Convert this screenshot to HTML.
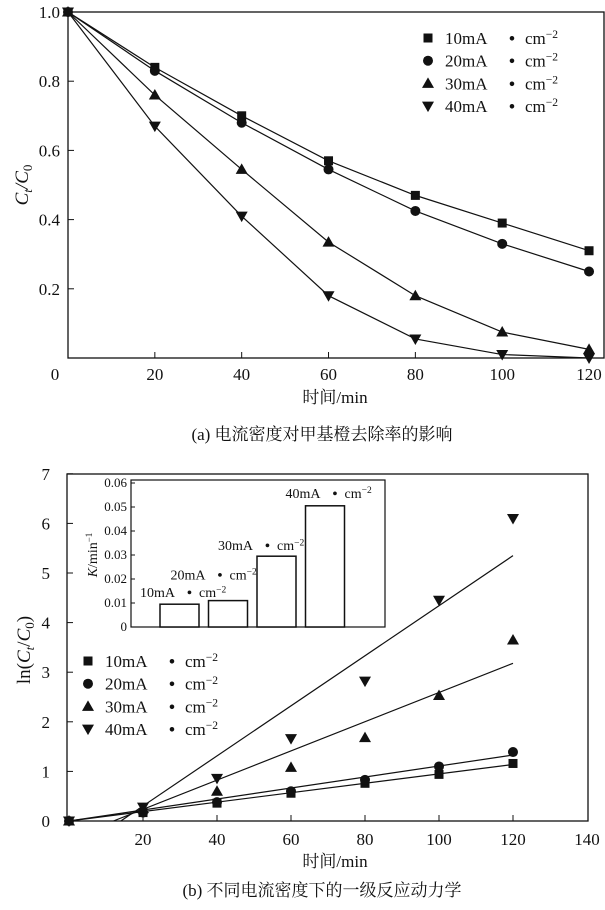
<!DOCTYPE html>
<html><head><meta charset="utf-8"><style>
html,body{margin:0;padding:0;background:#fff;}
svg{display:block;font-family:"Liberation Serif","Noto Serif CJK SC",serif;}
</style></head><body>
<svg id="c" width="605" height="910" xmlns="http://www.w3.org/2000/svg"></svg>
<script>
const NS='http://www.w3.org/2000/svg';
const topX=[0,20,40,60,80,100,120];
const top10=[1,0.84,0.70,0.57,0.47,0.39,0.31];
const top20=[1,0.83,0.68,0.545,0.425,0.33,0.25];
const top30=[1,0.76,0.545,0.335,0.18,0.075,0.025];
const top40=[1,0.67,0.41,0.18,0.055,0.01,0.0];
const topYTicks=[0.2,0.4,0.6,0.8,1.0];
const topXTicks=[20,40,60,80,100,120];
const botX=[0,20,40,60,80,100,120];
const bot10=[0,0.17,0.36,0.56,0.76,0.94,1.16];
const bot20=[0,0.17,0.38,0.60,0.83,1.10,1.39];
const bot30=[0,0.25,0.60,1.08,1.68,2.53,3.65];
const bot40=[0,0.28,0.86,1.66,2.82,4.45,6.10];
const fitStartX=[0,0,12,14];
const fitEnd=[1.14,1.33,3.18,5.35];
const botYTicks=[0,1,2,3,4,5,6,7];
const botXTicks=[20,40,60,80,100,120,140];
const insetCats=['10mA','20mA','30mA','40mA'];
const insetK=[0.0095,0.011,0.0295,0.0505];
const insetYTicks=[0,0.01,0.02,0.03,0.04,0.05,0.06];
const legendLabels=['10mA','20mA','30mA','40mA'];
const markers=['sq','ci','tu','td'];
const insetLabelDX=[-20,-38,-39,-20];
const insetLabelDY=[7,21,6,8];

const svg=document.getElementById('c');
function el(t,a,p){const e=document.createElementNS(NS,t);for(const k in a)e.setAttribute(k,a[k]);(p||svg).appendChild(e);return e;}
function txt(s,x,y,size,anchor,p){const t=el('text',{x:x,y:y,'font-size':size,'text-anchor':anchor||'middle',fill:'#111'},p);t.textContent=s;return t;}
function marker(type,x,y,g){
  if(type==='sq')return el('rect',{x:x-4.5,y:y-4.5,width:9,height:9,fill:'#111'},g);
  if(type==='ci')return el('circle',{cx:x,cy:y,r:5,fill:'#111'},g);
  if(type==='tu')return el('polygon',{points:`${x},${y-6} ${x-6},${y+4.5} ${x+6},${y+4.5}`,fill:'#111'},g);
  return el('polygon',{points:`${x},${y+6} ${x-6},${y-4.5} ${x+6},${y-4.5}`,fill:'#111'},g);
}
function unitLabel(s,x,y,size,g,bOff,cOff){
  const t=el('text',{x:x,y:y,'font-size':size,fill:'#111'},g);
  const a=el('tspan',{x:x},t);a.textContent=s;
  const b=el('tspan',{x:x+bOff,'font-weight':'bold'},t);b.textContent='•';
  const c=el('tspan',{x:x+cOff},t);c.textContent='cm';
  const d=el('tspan',{dy:-size*0.35,'font-size':size*0.68},t);d.textContent='−2';
  return t;
}

// ===== TOP CHART =====
const tx=v=>68+v*4.342, ty=v=>358-v*346;
const gt=el('g',{},svg);
const bt=el('rect',{x:68,y:12,width:536,height:346,fill:'none',stroke:'#111','stroke-width':1.3},gt);

topYTicks.forEach(v=>{el('line',{x1:68,y1:ty(v),x2:74,y2:ty(v),stroke:'#111'},gt);const t=txt(v.toFixed(1),60,ty(v)+6,17,'end',gt);});
txt('0',55,380,17,'middle',gt);
topXTicks.forEach(v=>{el('line',{x1:tx(v),y1:358,x2:tx(v),y2:352,stroke:'#111'},gt);const t=txt(String(v),tx(v),380,17,'middle',gt);});
[top10,top20,top30,top40].forEach((s,i)=>{
  const g=el('g',{},gt);
  el('polyline',{points:s.map((v,j)=>tx(topX[j])+','+ty(v)).join(' '),fill:'none',stroke:'#111','stroke-width':1.2},g);
  s.forEach((v,j)=>marker(markers[i],tx(topX[j]),ty(v),g));
});
legendLabels.forEach((l,i)=>{const g=el('g',{},gt);marker(markers[i],428,38+i*22.7,g);unitLabel(l,445,44+i*22.7,17,g,64,80);});
const yl=el('text',{x:0,y:0,'font-size':19,'text-anchor':'middle',transform:'translate(28,185) rotate(-90)',fill:'#111','font-style':'italic'},gt);

yl.innerHTML='C<tspan font-size="13" dy="4">t</tspan><tspan dy="-4">/C</tspan><tspan font-size="13" dy="4" font-style="normal">0</tspan>';
let t=txt('时间/min',335,403,17,'middle',gt);
t=txt('(a) 电流密度对甲基橙去除率的影响',322,440,17,'middle',gt);

// ===== BOTTOM CHART =====
const bx=v=>69+v*3.7, by=v=>821-v*49.6;
const gb=el('g',{},svg);
const bb=el('rect',{x:67,y:474,width:521,height:347,fill:'none',stroke:'#111','stroke-width':1.3},gb);

botYTicks.forEach(v=>{if(v>0)el('line',{x1:67,y1:by(v),x2:73,y2:by(v),stroke:'#111'},gb);const t=txt(String(v),50,by(v)+6,17,'end',gb);});
botXTicks.forEach(v=>{if(v<140)el('line',{x1:bx(v),y1:821,x2:bx(v),y2:815,stroke:'#111'},gb);const t=txt(String(v),bx(v),845,17,'middle',gb);});
[bot10,bot20,bot30,bot40].forEach((s,i)=>{
  const g=el('g',{},gb);
  el('line',{x1:bx(fitStartX[i]),y1:by(0),x2:bx(120),y2:by(fitEnd[i]),stroke:'#111','stroke-width':1.2},g);
  s.forEach((v,j)=>marker(markers[i],bx(botX[j]),by(v),g));
});
legendLabels.forEach((l,i)=>{const g=el('g',{},gb);marker(markers[i],88,661+i*22.7,g);unitLabel(l,105,667+i*22.7,17,g,64,80);});
const yl2=el('text',{x:0,y:0,'font-size':19,'text-anchor':'middle',transform:'translate(30,650) rotate(-90)',fill:'#111'},gb);

yl2.innerHTML='ln(<tspan font-style="italic">C</tspan><tspan font-size="13" dy="4" font-style="italic">t</tspan><tspan dy="-4">/</tspan><tspan font-style="italic">C</tspan><tspan font-size="13" dy="4">0</tspan><tspan dy="-4">)</tspan>';
t=txt('时间/min',335,867,17,'middle',gb);
t=txt('(b) 不同电流密度下的一级反应动力学',322,896,17,'middle',gb);

// ===== INSET =====
const gi=el('g',{},svg);
const iy=v=>627-v*2400;
el('rect',{x:131,y:480,width:254,height:147,fill:'#fff',stroke:'#111','stroke-width':1.2},gi);
insetYTicks.forEach(v=>{el('line',{x1:131,y1:iy(v),x2:135,y2:iy(v),stroke:'#111'},gi);const t=txt(v===0?'0':v.toFixed(2),127,iy(v)+4,13,'end',gi);});
insetK.forEach((k,i)=>{
  const x=160+i*48.5;
  const r=el('rect',{x:x,y:iy(k),width:39,height:627-iy(k),fill:'#fff',stroke:'#111','stroke-width':1.5},gi);
  
  const t=unitLabel(insetCats[i],x+insetLabelDX[i],iy(k)-insetLabelDY[i],14,gi,47,59);
  
});
const il=el('text',{x:0,y:0,'font-size':14,'text-anchor':'middle',transform:'translate(97,555) rotate(-90)',fill:'#111'},gi);

il.innerHTML='<tspan font-style="italic">K</tspan>/min<tspan font-size="9" dy="-5">−1</tspan>';
</script>
</body></html>
